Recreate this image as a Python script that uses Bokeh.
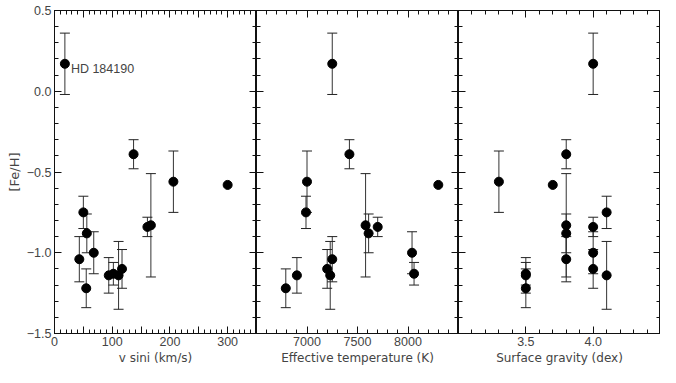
from bokeh.plotting import figure
from bokeh.models import (LinearAxis, FixedTicker, ColumnDataSource, Whisker,
                          TeeHead, Range1d)
from bokeh.layouts import row
from bokeh.core.properties import value
from bokeh.embed import file_html
from bokeh.resources import INLINE

# ---- data ----
star = ["HD 184190", "", "", "", "", "", "", "", "", "", "", "", "", "", ""]
feh = [0.17, -0.39, -0.56, -0.58, -0.83, -0.84, -0.75, -0.88, -1.00, -1.04,
       -1.22, -1.14, -1.13, -1.14, -1.10]
feh_err = [0.19, 0.09, 0.19, 0.0, 0.32, 0.06, 0.10, 0.12, 0.13, 0.14,
           0.12, 0.11, 0.07, 0.21, 0.12]
vsini = [18, 137, 206, 300, 167, 161, 50, 56, 68, 43, 55, 94, 102, 111, 117]
teff = [7250, 7420, 7000, 8300, 7580, 7700, 6990, 7610, 8040, 7250,
        6790, 6900, 8060, 7230, 7200]
logg = [4.0, 3.8, 3.3, 3.7, 3.8, 4.0, 4.1, 3.8, 4.0, 3.8,
        3.5, 3.5, 3.5, 4.1, 4.0]

y_ticks = [-1.5, -1.0, -0.5, 0.0, 0.5]
y_tick_labels = ["\u22121.5", "\u22121.0", "\u22120.5", "0.0", "0.5"]
y_minor = [round(-1.5 + 0.1 * i, 2) for i in range(21)]

TICKFONT = "Liberation Sans"
TITLEFONT = "DejaVu Sans"
TXT = "#444444"
AX = "#111111"

src = ColumnDataSource(dict(vsini=vsini, teff=teff, logg=logg, feh=feh))
keep = [i for i, e in enumerate(feh_err) if e > 0]
wsrc = ColumnDataSource(dict(vsini=[vsini[i] for i in keep],
                             teff=[teff[i] for i in keep],
                             logg=[logg[i] for i in keep],
                             lo=[feh[i] - feh_err[i] for i in keep],
                             hi=[feh[i] + feh_err[i] for i in keep]))


def style_axis(ax, labeled):
    ax.axis_line_color = AX
    ax.major_tick_line_color = AX
    ax.minor_tick_line_color = AX
    ax.major_tick_in = 7
    ax.major_tick_out = 0
    ax.minor_tick_in = 4
    ax.minor_tick_out = 0
    if labeled:
        ax.major_label_text_font = TICKFONT
        ax.major_label_text_font_size = "12.5px"
        ax.major_label_text_color = TXT
        ax.major_label_standoff = 3
        ax.axis_label_text_font = TITLEFONT
        ax.axis_label_text_font_size = "12px"
        ax.axis_label_text_font_style = "normal"
        ax.axis_label_text_color = TXT
        ax.axis_label_standoff = 2
    else:
        ax.major_label_text_font_size = "0px"
        ax.major_label_text_color = None
        ax.major_label_standoff = 0
        ax.axis_label = None


def panel(xcol, xr, width, left, right, xmajor, xminor, xover, xlabel,
          ylabeled):
    p = figure(width=width, height=367, x_range=Range1d(*xr),
               y_range=Range1d(-1.5, 0.5), output_backend="svg",
               toolbar_location=None, min_border_left=left,
               min_border_right=right, min_border_top=10,
               min_border_bottom=34, background_fill_color="white",
               border_fill_color="white", outline_line_color=AX)
    p.title.visible = False
    p.xgrid.visible = False
    p.ygrid.visible = False

    bx = p.xaxis[0]
    bx.ticker = FixedTicker(ticks=xmajor, minor_ticks=xminor)
    bx.major_label_overrides = xover
    bx.axis_label = xlabel
    style_axis(bx, True)

    ly = p.yaxis[0]
    ly.ticker = FixedTicker(ticks=y_ticks, minor_ticks=y_minor)
    if ylabeled:
        ly.major_label_overrides = dict(zip(y_ticks, y_tick_labels))
        ly.axis_label = "[Fe/H]"
        style_axis(ly, True)
        ly.axis_label_text_font_size = "13px"
    else:
        style_axis(ly, False)

    tx = LinearAxis(ticker=FixedTicker(ticks=xmajor, minor_ticks=xminor))
    style_axis(tx, False)
    p.add_layout(tx, "above")
    ry = LinearAxis(ticker=FixedTicker(ticks=y_ticks, minor_ticks=y_minor))
    style_axis(ry, False)
    p.add_layout(ry, "right")

    w = Whisker(source=wsrc, base=xcol, lower="lo", upper="hi",
                dimension="height", line_color="#333333", line_width=1,
                upper_head=TeeHead(size=10, line_color="#222222", line_width=1),
                lower_head=TeeHead(size=10, line_color="#222222", line_width=1))
    p.add_layout(w)
    p.scatter(xcol, "feh", source=src, size=9, fill_color="black",
              line_color="black")
    return p


p1 = panel("vsini", (0, 350), 256, 54, 0,
           [0, 50, 100, 150, 200, 250, 300, 350], list(range(0, 351, 10)),
           {0: "0", 50: "", 100: "100", 150: "", 200: "200", 250: "",
            300: "300", 350: ""},
           "v sini (km/s)", True)
p1.text(x=[vsini[0]], y=[feh[0]], text=[star[0]], x_offset=6, y_offset=5,
        text_baseline="middle", text_align="left", text_font=value(TICKFONT),
        text_font_size="12.5px", text_color=TXT)

p2 = panel("teff", (6500, 8500), 202, 0, 0,
           [6500, 7000, 7500, 8000, 8500], list(range(6500, 8501, 100)),
           {6500: "", 7000: "7000", 7500: "7500", 8000: "8000", 8500: ""},
           "Effective temperature (K)", False)

p3 = panel("logg", (3.0, 4.5), 202, 0, 0,
           [3.0, 3.5, 4.0, 4.5], [round(3.0 + 0.1 * i, 2) for i in range(16)],
           {3.0: "", 3.5: "3.5", 4.0: "4.0", 4.5: ""},
           "Surface gravity (dex)", False)

layout = row(p1, p2, p3, spacing=0)
open("out.html", "w").write(file_html(layout, INLINE))
